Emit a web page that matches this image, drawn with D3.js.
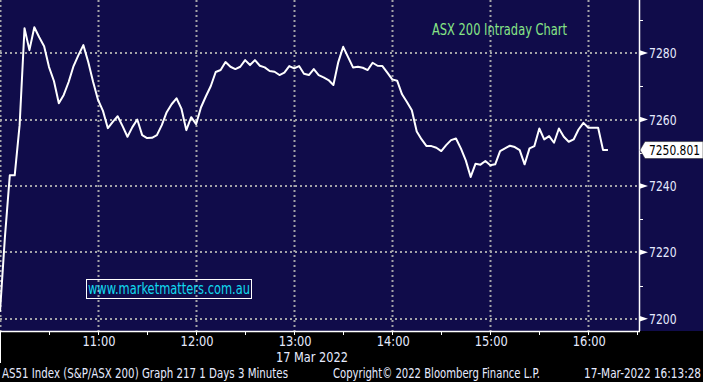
<!DOCTYPE html>
<html>
<head>
<meta charset="utf-8">
<script src="https://cdn.jsdelivr.net/npm/d3@7"></script>
<style>
  html, body { margin: 0; padding: 0; background: #000; }
  svg { display: block; }
  text { font-family: "Liberation Sans Narrow", "DejaVu Sans Condensed", sans-serif; }
</style>
</head>
<body>
<div id="chart"></div>
<script>
// ASX 200 intraday, 3-minute bars, 17 Mar 2022
var sessionDay = "2022-03-17";
var barMinutes = 3;

var prices10 = [7202.1, 7224.5, 7243.2, 7243.2, 7258.3, 7287.5, 7280.9, 7287.8, 7284.8, 7282.1,
                7275.8, 7271.6, 7264.9, 7267.4, 7271.3, 7276.1, 7279.4, 7282.4, 7277.3, 7271.3];
var prices11 = [7265.9, 7262.6, 7257.4, 7259.3, 7261.0, 7258.0, 7254.8, 7257.7, 7260.0, 7255.3,
                7254.4, 7254.5, 7255.3, 7258.3, 7262.2, 7264.6, 7266.4, 7263.3, 7256.8, 7260.7];
var prices12 = [7258.6, 7263.7, 7267.0, 7270.1, 7274.3, 7274.9, 7277.3, 7275.9, 7275.2, 7275.9,
                7277.9, 7276.4, 7277.9, 7276.2, 7275.7, 7274.6, 7274.4, 7273.4, 7274.1, 7276.1];
var prices13 = [7275.4, 7276.1, 7273.8, 7273.4, 7275.2, 7273.4, 7272.7, 7271.9, 7270.4, 7277.3,
                7281.9, 7278.8, 7275.7, 7275.9, 7275.6, 7274.9, 7277.1, 7276.2, 7276.1, 7274.1];
var prices14 = [7272.1, 7271.7, 7267.6, 7265.3, 7262.8, 7256.4, 7254.0, 7252.0, 7252.0, 7251.5,
                7250.5, 7252.3, 7253.8, 7254.3, 7251.3, 7247.7, 7242.7, 7246.7, 7246.4, 7247.5];
var prices15 = [7246.2, 7246.5, 7250.5, 7251.3, 7252.1, 7251.7, 7250.8, 7246.5, 7251.3, 7252.0,
                7257.3, 7254.0, 7255.0, 7253.0, 7257.3, 7254.8, 7253.3, 7254.0, 7257.0, 7259.0];
var prices16 = [7257.5, 7257.5, 7257.5, 7250.8, 7250.801];

var lastPrice = 7250.801;
var yMajorTicks = [7200, 7220, 7240, 7260, 7280];
var yMinorTicks = [7210, 7230, 7250, 7270, 7290];
var hourTicks = ["10:00", "11:00", "12:00", "13:00", "14:00", "15:00", "16:00"];
var halfHourTicks = ["10:30", "11:30", "12:30", "13:30", "14:30", "15:30", "16:30"];

var chartTitle = "ASX 200 Intraday Chart";
var watermark = "www.marketmatters.com.au";
var dateLabel = "17 Mar 2022";
var footerLeft = "AS51 Index (S&P/ASX 200) Graph 217 1 Days 3 Minutes";
var footerMid = "Copyright\u00a9 2022 Bloomberg Finance L.P.";
var footerRight = "17-Mar-2022 16:13:28";

var totalW = 703, totalH = 382;
var plotW = 639, plotH = 331;

var parseTime = d3.timeParse("%Y-%m-%d %H:%M");
var start = parseTime(sessionDay + " 10:00");

var prices = [].concat(prices10, prices11, prices12, prices13, prices14, prices15, prices16);
var data = prices.map(function(v, i) {
    return { date: d3.timeMinute.offset(start, i * barMinutes), value: v };
});

var svg = d3.select("#chart").append("svg")
    .attr("width", totalW)
    .attr("height", totalH);

// backgrounds
svg.append("rect").attr("width", totalW).attr("height", totalH).attr("fill", "#000");
svg.append("rect").attr("width", totalW).attr("height", plotH).attr("fill", "#100c4a");

// --- Scales ---
var x = d3.scaleTime()
    .domain([start, parseTime(sessionDay + " 16:31")])
    .range([0, plotW]);

var y = d3.scaleLinear()
    .domain([7196.3, 7296])
    .range([plotH, 0]);

function atTime(s) { return x(parseTime(sessionDay + " " + s)); }

// --- Grid lines (dotted) ---
var grid = svg.append("g").attr("class", "grid")
    .attr("stroke", "#a3a3a8")
    .attr("stroke-width", 2)
    .attr("stroke-dasharray", "2,3");

grid.selectAll("line.h")
    .data(yMajorTicks)
    .enter().append("line")
    .attr("class", "h")
    .attr("x1", 0).attr("x2", plotW)
    .attr("y1", function(d) { return Math.round(y(d)); })
    .attr("y2", function(d) { return Math.round(y(d)); });

grid.selectAll("line.v")
    .data(hourTicks)
    .enter().append("line")
    .attr("class", "v")
    .attr("x1", function(d) { return Math.round(atTime(d)) + 0.5; })
    .attr("x2", function(d) { return Math.round(atTime(d)) + 0.5; })
    .attr("y1", 0).attr("y2", plotH);

// --- Price line ---
var line = d3.line()
    .x(function(d) { return x(d.date); })
    .y(function(d) { return y(d.value); });

svg.append("path")
    .datum(data)
    .attr("fill", "none")
    .attr("stroke", "#ffffff")
    .attr("stroke-width", 2)
    .attr("stroke-linejoin", "round")
    .attr("d", line);

// --- Title & watermark ---
svg.append("text")
    .attr("x", 432)
    .attr("y", 35)
    .attr("fill", "#86e486")
    .attr("textLength", 135).attr("lengthAdjust", "spacingAndGlyphs")
    .style("font-size", "15px")
    .text(chartTitle);

var wm = svg.append("g");
wm.append("rect")
    .attr("x", 86.5).attr("y", 279.5)
    .attr("width", 165).attr("height", 19)
    .attr("fill", "none")
    .attr("stroke", "#ffffff")
    .attr("stroke-width", 1);
wm.append("text")
    .attr("x", 88)
    .attr("y", 294)
    .attr("fill", "#10d8ee")
    .attr("textLength", 162).attr("lengthAdjust", "spacingAndGlyphs")
    .style("font-size", "15px")
    .text(watermark);

// --- Right axis ---
var axisColor = "#ffffff";
var labelColor = "#e6ebff";

svg.append("line")
    .attr("x1", plotW + 0.5).attr("x2", plotW + 0.5)
    .attr("y1", 0).attr("y2", plotH)
    .attr("stroke", axisColor).attr("stroke-width", 1.5);

svg.selectAll("line.yminor")
    .data(yMinorTicks)
    .enter().append("line")
    .attr("class", "yminor")
    .attr("x1", plotW).attr("x2", plotW + 4)
    .attr("y1", function(d) { return Math.round(y(d)) + 0.5; })
    .attr("y2", function(d) { return Math.round(y(d)) + 0.5; })
    .attr("stroke", axisColor).attr("stroke-width", 1);

svg.selectAll("path.ymajor")
    .data(yMajorTicks)
    .enter().append("path")
    .attr("class", "ymajor")
    .attr("fill", axisColor)
    .attr("d", function(d) {
        var yy = y(d);
        return "M" + plotW + "," + (yy - 3) + "L" + (plotW + 9) + "," + yy +
               "L" + plotW + "," + (yy + 3) + "Z";
    });

svg.selectAll("text.ylabel")
    .data(yMajorTicks)
    .enter().append("text")
    .attr("class", "ylabel")
    .attr("x", 649)
    .attr("y", function(d) { return y(d); })
    .attr("dy", "0.36em")
    .attr("fill", labelColor)
    .attr("textLength", 27.5).attr("lengthAdjust", "spacingAndGlyphs")
    .style("font-size", "14px")
    .text(function(d) { return d; });

// last price tag
var ly = y(lastPrice);
svg.append("path")
    .attr("fill", "#ffffff")
    .attr("stroke", "#222")
    .attr("stroke-width", 0.5)
    .attr("d", "M" + (plotW + 1) + "," + ly +
               "L" + (plotW + 6) + "," + (ly - 8.5) +
               "L" + totalW + "," + (ly - 8.5) +
               "L" + totalW + "," + (ly + 8.5) +
               "L" + (plotW + 6) + "," + (ly + 8.5) + "Z");
svg.append("text")
    .attr("x", 649)
    .attr("y", ly)
    .attr("dy", "0.36em")
    .attr("fill", "#000")
    .attr("textLength", 51).attr("lengthAdjust", "spacingAndGlyphs")
    .style("font-size", "14px")
    .text(d3.format(".3f")(lastPrice));

// --- Bottom axis ---
svg.append("line")
    .attr("x1", 0).attr("x2", plotW + 1)
    .attr("y1", plotH + 0.5).attr("y2", plotH + 0.5)
    .attr("stroke", axisColor).attr("stroke-width", 1.5);

svg.append("line")
    .attr("x1", 0.5).attr("x2", 0.5)
    .attr("y1", plotH).attr("y2", 363)
    .attr("stroke", axisColor).attr("stroke-width", 1);

svg.selectAll("line.xtick")
    .data(hourTicks.concat(halfHourTicks))
    .enter().append("line")
    .attr("class", "xtick")
    .attr("x1", function(d) { return Math.round(atTime(d)) + 0.5; })
    .attr("x2", function(d) { return Math.round(atTime(d)) + 0.5; })
    .attr("y1", plotH).attr("y2", plotH + 4)
    .attr("stroke", axisColor).attr("stroke-width", 1);

svg.selectAll("text.xlabel")
    .data(hourTicks.slice(1))
    .enter().append("text")
    .attr("class", "xlabel")
    .attr("x", function(d) { return atTime(d) - 15.5; })
    .attr("y", 346)
    .attr("fill", labelColor)
    .attr("textLength", 33).attr("lengthAdjust", "spacingAndGlyphs")
    .style("font-size", "14px")
    .text(function(d) { return d; });

svg.append("text")
    .attr("x", 276)
    .attr("y", 362)
    .attr("fill", labelColor)
    .attr("textLength", 72).attr("lengthAdjust", "spacingAndGlyphs")
    .style("font-size", "14px")
    .text(dateLabel);

// --- Footer ---
var footer = svg.append("g")
    .attr("fill", labelColor)
    .style("font-size", "14px");
footer.append("text").attr("x", 2).attr("y", 378)
    .attr("textLength", 286).attr("lengthAdjust", "spacingAndGlyphs")
    .text(footerLeft);
footer.append("text").attr("x", 333).attr("y", 378)
    .attr("textLength", 207).attr("lengthAdjust", "spacingAndGlyphs")
    .text(footerMid);
footer.append("text").attr("x", 584).attr("y", 378)
    .attr("textLength", 117).attr("lengthAdjust", "spacingAndGlyphs")
    .text(footerRight);
</script>
</body>
</html>
